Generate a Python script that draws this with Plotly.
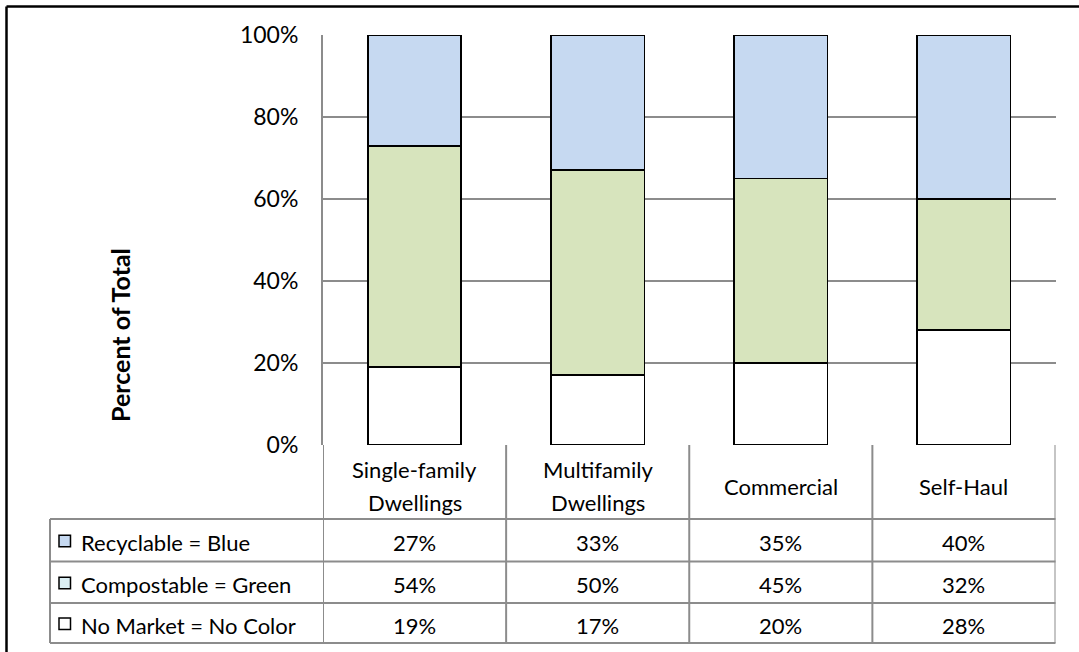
import plotly.graph_objects as go

# Waste composition by generator sector (share of total, %)
categories = ["Single-family<br>Dwellings", "Multifamily<br>Dwellings", "Commercial", "Self-Haul"]
recyclable = [27, 33, 35, 40]
compostable = [54, 50, 45, 32]
no_market = [19, 17, 20, 28]

series_names = ["Recyclable = Blue", "Compostable = Green", "No Market = No Color"]
bar_colors = ["#C6D9F1", "#D7E4BD", "#FFFFFF"]
key_colors = ["#C6D9F1", "#DAEEF3", "#FFFFFF"]
y_ticks = [0, 20, 40, 60, 80, 100]
y_tick_labels = [f"{v}%" for v in y_ticks]

W, H = 1079, 652
FONT = "Lato"
GRID = "#8C8C8C"
TXT = 22


def fx(px):
    return px / W


def fy(py):
    return 1 - py / H


# pixel layout of plot area and table
PL, PR, PT, PB = 323, 1055.5, 35, 445
HEADER_B = 519
ROW_LINES = [519, 561.5, 603, 643]
TABLE_L = 50

x_idx = list(range(len(categories)))

fig = go.Figure()
for name, vals, col in [
    (series_names[2], no_market, bar_colors[2]),
    (series_names[1], compostable, bar_colors[1]),
    (series_names[0], recyclable, bar_colors[0]),
]:
    fig.add_trace(go.Bar(
        x=x_idx, y=vals, name=name,
        marker=dict(color=col, line=dict(color="#000000", width=1.7)),
        showlegend=False, hoverinfo="y+name",
    ))

shapes = []
annotations = []

# outer frame (left and top edges)
shapes.append(dict(type="line", xref="paper", yref="paper",
                   x0=fx(6.5), x1=1, y0=fy(6.5), y1=fy(6.5),
                   line=dict(color="#000000", width=2.5)))
shapes.append(dict(type="line", xref="paper", yref="paper",
                   x0=fx(6.5), x1=fx(6.5), y0=fy(6.5), y1=0,
                   line=dict(color="#000000", width=2.5)))

# data table: column separators
for i in range(len(categories) + 1):
    shapes.append(dict(type="line", xref="x", yref="paper",
                       x0=i - 0.5, x1=i - 0.5, y0=fy(PB), y1=fy(ROW_LINES[-1]),
                       line=dict(color=GRID, width=2)))
shapes.append(dict(type="line", xref="paper", yref="paper",
                   x0=fx(TABLE_L), x1=fx(TABLE_L), y0=fy(HEADER_B), y1=fy(ROW_LINES[-1]),
                   line=dict(color=GRID, width=2)))
# row separators
for yy in ROW_LINES:
    shapes.append(dict(type="line", xref="paper", yref="paper",
                       x0=fx(TABLE_L), x1=fx(PR), y0=fy(yy), y1=fy(yy),
                       line=dict(color=GRID, width=2)))

# header labels (each line placed separately for wider line spacing)
header_mid = (PB + HEADER_B) / 2 + 4
for i, lab in enumerate(categories):
    lines = lab.split("<br>")
    n = len(lines)
    for k, ln in enumerate(lines):
        yc = header_mid + (k - (n - 1) / 2) * 33
        annotations.append(dict(x=i, xref="x", y=fy(yc), yref="paper",
                                text=ln, showarrow=False,
                                xanchor="center", yanchor="middle",
                                font=dict(family=FONT, size=TXT, color="#000000")))

# table rows: legend key, label and values
rows = [recyclable, compostable, no_market]
for r, (name, vals, kc) in enumerate(zip(series_names, rows, key_colors)):
    yc = (ROW_LINES[r] + ROW_LINES[r + 1]) / 2
    ty = yc + 2
    shapes.append(dict(type="rect", xref="paper", yref="paper",
                       x0=fx(59), x1=fx(70.5), y0=fy(ty - 7), y1=fy(ty + 4.5),
                       fillcolor=kc, line=dict(color="#000000", width=1.5)))
    annotations.append(dict(x=fx(79), xref="paper", y=fy(ty), yref="paper",
                            text=name, showarrow=False,
                            xanchor="left", yanchor="middle",
                            font=dict(family=FONT, size=TXT, color="#000000")))
    for i, v in enumerate(vals):
        annotations.append(dict(x=i, xref="x", y=fy(ty), yref="paper",
                                text=f"{v}%", showarrow=False,
                                xanchor="center", yanchor="middle",
                                font=dict(family=FONT, size=TXT, color="#000000")))

# y-axis title
annotations.append(dict(x=fx(120), xref="paper", y=fy(335), yref="paper",
                        text="<b>Percent of Total</b>", showarrow=False,
                        textangle=-90, xanchor="center", yanchor="middle",
                        font=dict(family=FONT, size=25, color="#000000")))

fig.update_layout(
    width=W, height=H, autosize=False,
    margin=dict(l=0, r=0, t=0, b=0, pad=0),
    paper_bgcolor="#FFFFFF", plot_bgcolor="#FFFFFF",
    barmode="stack", bargap=0.49,
    font=dict(family=FONT, color="#000000"),
    shapes=shapes, annotations=annotations,
    xaxis=dict(domain=[fx(PL), fx(PR)], range=[-0.5, len(categories) - 0.5],
               showticklabels=False, showgrid=False, zeroline=False,
               showline=False, ticks="", fixedrange=True, automargin=False),
    yaxis=dict(domain=[fy(PB), fy(PT)], range=[0, 100],
               tickmode="array", tickvals=y_ticks, ticktext=y_tick_labels,
               tickfont=dict(family=FONT, size=23, color="#000000"),
               showgrid=True, gridcolor=GRID, gridwidth=2,
               zeroline=False, showline=True, linecolor=GRID, linewidth=2,
               ticks="", ticklabelstandoff=18, fixedrange=True, automargin=False),
)

fig.write_html("out.html")
